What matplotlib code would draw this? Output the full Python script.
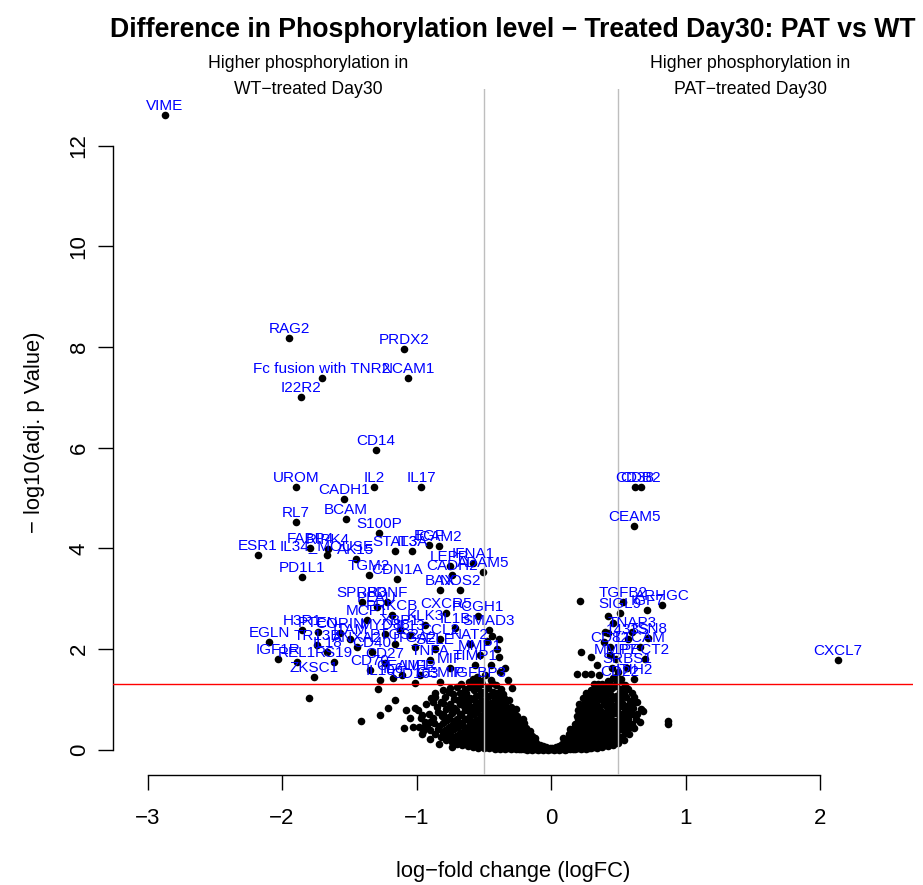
import numpy as np
import matplotlib
matplotlib.use("Agg")
import matplotlib.pyplot as plt

plt.rcParams['font.family'] = ['Liberation Sans', 'DejaVu Sans']

# ---------------- data ----------------
gene_names = [
    "VIME", "RAG2", "PRDX2", "Fc fusion with TNR2", "NCAM1", "I22R2", "CD14",
    "UROM", "IL2", "IL17", "CADH1", "BCAM", "RL7", "S100P", "ESR1", "FABP4",
    "RIPK4", "IL34_MOUSE", "AK15", "PD1L1", "TGM2", "CDN1A", "STAT3", "IL3A",
    "EGF", "ICAM2", "LEPR", "IFNA1", "CADH2", "ADAM5", "BAX", "NOS2",
    "SPRR3", "BDNF", "PLAU", "MCP1", "PRKCB", "CXCR5", "PCGH1", "SMAD3",
    "H3R1", "PTEN", "CORIN", "MYD88", "EGLN", "TR13B", "IL18", "IGF1R",
    "REL1", "RS19", "ZKSC1", "ITAM", "ANXA2", "CD40", "CD70", "IL6", "CEAM1",
    "MMP1", "TIMP1", "IGFBP3", "CEMIP", "CD163", "NAT2", "XBP1", "KLK3",
    "ITGA2", "CCL2", "IL1B", "TNFA", "MIF", "LIFR", "CD27", "PTGS2", "IL10",
    "IL13", "SELE",
    "CD38", "CDB2", "CEAM5", "TGFB2", "ARHGC", "IGF7", "SIGL9", "TNAP3",
    "1433S", "TSN8", "CD82", "L1CAM", "MMP7", "PECT2", "SRBS1", "ITIH2",
    "CD22", "CXCL7",
]
gene_logfc = [
    -2.870, -1.948, -1.093, -1.703, -1.063, -1.859, -1.301,
    -1.896, -1.316, -0.967, -1.539, -1.524, -1.896, -1.279, -2.178, -1.792,
    -1.658, -1.665, -1.450, -1.851, -1.353, -1.145, -1.160, -1.033,
    -0.907, -0.833, -0.751, -0.580, -0.736, -0.506, -0.825, -0.677,
    -1.405, -1.219, -1.294, -1.368, -1.182, -0.781, -0.543, -0.461,
    -1.851, -1.732, -1.569, -1.234, -2.097, -1.740, -1.665, -2.030,
    -1.888, -1.613, -1.762, -1.494, -1.442, -1.331, -1.346, -1.175, -1.108,
    -0.528, -0.565, -0.528, -0.825, -1.011, -0.602, -1.123, -0.937,
    -1.011, -0.825, -0.714, -0.900, -0.751, -0.974, -1.234, -1.160, -1.271,
    -1.048, -0.862,
    0.625, 0.665, 0.617, 0.535, 0.825, 0.714, 0.513, 0.602,
    0.572, 0.721, 0.439, 0.662, 0.483, 0.699, 0.565, 0.617,
    0.513, 2.134,
]
gene_neglogp = [
    12.62, 8.19, 7.97, 7.39, 7.39, 7.01, 5.96,
    5.21, 5.21, 5.21, 4.99, 4.59, 4.53, 4.31, 3.87, 4.01,
    3.99, 3.87, 3.78, 3.44, 3.48, 3.40, 3.95, 3.95,
    4.07, 4.05, 3.64, 3.70, 3.48, 3.52, 3.18, 3.18,
    2.94, 2.94, 2.84, 2.58, 2.68, 2.72, 2.66, 2.38,
    2.38, 2.34, 2.32, 2.29, 2.13, 2.07, 1.93, 1.81,
    1.75, 1.75, 1.45, 2.19, 2.03, 1.93, 1.59, 1.43, 1.49,
    1.89, 1.69, 1.35, 1.35, 1.33, 2.09, 2.38, 2.48,
    2.03, 2.19, 2.42, 1.79, 1.63, 1.49, 1.73, 2.09, 1.39,
    2.28, 1.99,
    5.21, 5.21, 4.45, 2.94, 2.88, 2.78, 2.72, 2.34,
    2.19, 2.21, 2.03, 2.03, 1.81, 1.81, 1.63, 1.41,
    1.37, 1.79,
]

# unlabeled proteins (logFC, -log10 adj. p)
other_points = [
    (-1.80, 1.03), (-1.41, 0.56), (-1.29, 1.21), (-1.16, 0.99), (-1.21, 0.83),
    (-1.27, 0.68), (-1.08, 0.79), (-1.01, 0.83), (-0.96, 0.68), (-1.05, 0.62),
    (-1.09, 0.42), (-1.03, 0.44), (-0.94, 0.46), (-0.90, 0.54), (-0.86, 1.05),
    (-0.80, 1.19), (-0.75, 1.23), (-0.77, 0.24),
    (-0.98, 0.45), (-0.97, 0.62), (-0.99, 0.78),
    (-0.94, 0.55), (-0.93, 0.90), (-0.95, 0.36),
    (-0.90, 0.38), (-0.91, 0.70), (-0.89, 1.02), (-0.90, 0.22),
    (-0.86, 0.30), (-0.87, 0.52), (-0.85, 0.85), (-0.86, 1.12),
    (-0.82, 0.25), (-0.83, 0.47), (-0.81, 0.66), (-0.82, 0.95), (-0.83, 0.12),
    (-0.78, 0.20), (-0.79, 0.38), (-0.77, 0.58), (-0.78, 0.80), (-0.79, 1.05),
    (-0.74, 0.16), (-0.75, 0.33), (-0.73, 0.50), (-0.74, 0.72), (-0.75, 0.90),
    (-0.73, 1.10), (-0.74, 0.06),
    (-0.70, 0.12), (-0.71, 0.27), (-0.69, 0.44), (-0.70, 0.60), (-0.71, 0.78),
    (-0.69, 0.98), (-0.70, 1.25),
    (-0.66, 0.10), (-0.67, 0.22), (-0.65, 0.36), (-0.66, 0.52), (-0.67, 0.68),
    (-0.65, 0.86), (-0.66, 1.05), (-0.67, 1.30),
    (-0.62, 0.08), (-0.63, 0.18), (-0.61, 0.30), (-0.62, 0.45), (-0.63, 0.60),
    (-0.61, 0.76), (-0.62, 0.92), (-0.63, 1.12), (-0.61, 1.35),
    (-0.58, 0.06), (-0.59, 0.15), (-0.57, 0.26), (-0.58, 0.40), (-0.59, 0.55),
    (-0.57, 0.70), (-0.58, 0.85), (-0.59, 1.00), (-0.57, 1.18), (-0.58, 1.40),
    (-0.54, 0.04), (-0.55, 0.13), (-0.53, 0.22), (-0.54, 0.35), (-0.55, 0.48),
    (-0.53, 0.62), (-0.54, 0.78), (-0.55, 0.92), (-0.53, 1.08), (-0.54, 1.25),
    (-0.55, 1.45),
    (-0.50, 0.03), (-0.51, 0.11), (-0.49, 0.20), (-0.50, 0.32), (-0.51, 0.44),
    (-0.49, 0.57), (-0.50, 0.70), (-0.51, 0.84), (-0.49, 0.98), (-0.50, 1.14),
    (-0.51, 1.30), (-0.49, 1.48),
    (-0.46, 0.03), (-0.47, 0.10), (-0.45, 0.18), (-0.46, 0.28), (-0.47, 0.40),
    (-0.45, 0.52), (-0.46, 0.64), (-0.47, 0.78), (-0.45, 0.92), (-0.46, 1.06),
    (-0.47, 1.22), (-0.45, 1.38),
    (-0.42, 0.02), (-0.43, 0.08), (-0.41, 0.16), (-0.42, 0.25), (-0.43, 0.36),
    (-0.41, 0.48), (-0.42, 0.60), (-0.43, 0.72), (-0.41, 0.86), (-0.42, 1.00),
    (-0.43, 1.15), (-0.41, 1.28),
    (-0.38, 0.02), (-0.39, 0.07), (-0.37, 0.14), (-0.38, 0.22), (-0.39, 0.32),
    (-0.37, 0.43), (-0.38, 0.55), (-0.39, 0.67), (-0.37, 0.80), (-0.38, 0.95),
    (-0.39, 1.08), (-0.37, 1.20),
    (-0.34, 0.01), (-0.35, 0.06), (-0.33, 0.12), (-0.34, 0.20), (-0.35, 0.30),
    (-0.33, 0.40), (-0.34, 0.50), (-0.35, 0.62), (-0.33, 0.75), (-0.34, 0.90),
    (-0.35, 1.02),
    (-0.30, 0.01), (-0.31, 0.05), (-0.29, 0.10), (-0.30, 0.17), (-0.31, 0.26),
    (-0.29, 0.36), (-0.30, 0.46), (-0.31, 0.57), (-0.29, 0.70), (-0.30, 0.85),
    (-0.31, 0.98),
    (-0.26, 0.01), (-0.27, 0.04), (-0.25, 0.09), (-0.26, 0.15), (-0.27, 0.23),
    (-0.25, 0.32), (-0.26, 0.42), (-0.27, 0.53), (-0.25, 0.66), (-0.26, 0.80),
    (-0.22, 0.01), (-0.23, 0.04), (-0.21, 0.08), (-0.22, 0.13), (-0.23, 0.20),
    (-0.21, 0.28), (-0.22, 0.37), (-0.23, 0.48), (-0.21, 0.60),
    (-0.18, 0.00), (-0.19, 0.03), (-0.17, 0.07), (-0.18, 0.12), (-0.19, 0.18),
    (-0.17, 0.25), (-0.18, 0.33), (-0.19, 0.43),
    (-0.14, 0.00), (-0.15, 0.03), (-0.13, 0.06), (-0.14, 0.10), (-0.15, 0.15),
    (-0.13, 0.21), (-0.14, 0.28),
    (-0.10, 0.00), (-0.11, 0.02), (-0.09, 0.05), (-0.10, 0.09), (-0.11, 0.14),
    (-0.06, 0.00), (-0.07, 0.02), (-0.05, 0.04), (-0.06, 0.07),
    (-0.02, 0.00), (-0.03, 0.01), (-0.01, 0.03),
    (0.02, 0.00), (0.03, 0.01), (0.01, 0.03),
    (0.06, 0.00), (0.07, 0.02), (0.05, 0.05), (0.06, 0.08),
    (0.10, 0.00), (0.11, 0.02), (0.09, 0.05), (0.10, 0.10), (0.11, 0.16),
    (0.09, 0.24),
    (0.14, 0.01), (0.15, 0.03), (0.13, 0.07), (0.14, 0.13), (0.15, 0.20),
    (0.13, 0.30), (0.14, 0.40),
    (0.18, 0.01), (0.19, 0.04), (0.17, 0.09), (0.18, 0.16), (0.19, 0.25),
    (0.17, 0.36), (0.18, 0.50), (0.19, 0.66),
    (0.22, 0.02), (0.23, 0.05), (0.21, 0.11), (0.22, 0.19), (0.23, 0.29),
    (0.21, 0.42), (0.22, 0.56), (0.23, 0.72), (0.21, 0.90),
    (0.26, 0.02), (0.27, 0.06), (0.25, 0.13), (0.26, 0.22), (0.27, 0.33),
    (0.25, 0.46), (0.26, 0.60), (0.27, 0.76), (0.25, 0.95), (0.26, 1.12),
    (0.30, 0.03), (0.31, 0.08), (0.29, 0.15), (0.30, 0.25), (0.31, 0.37),
    (0.29, 0.50), (0.30, 0.65), (0.31, 0.80), (0.29, 0.98), (0.30, 1.18),
    (0.34, 0.04), (0.35, 0.10), (0.33, 0.18), (0.34, 0.28), (0.35, 0.40),
    (0.33, 0.54), (0.34, 0.70), (0.35, 0.86), (0.33, 1.04), (0.34, 1.24),
    (0.38, 0.06), (0.39, 0.12), (0.37, 0.21), (0.38, 0.32), (0.39, 0.45),
    (0.37, 0.60), (0.38, 0.75), (0.39, 0.92), (0.37, 1.10), (0.38, 1.30),
    (0.42, 0.08), (0.43, 0.15), (0.41, 0.25), (0.42, 0.37), (0.43, 0.50),
    (0.41, 0.65), (0.42, 0.80), (0.43, 0.97), (0.41, 1.16), (0.42, 1.36),
    (0.46, 0.10), (0.47, 0.18), (0.45, 0.30), (0.46, 0.42), (0.47, 0.56),
    (0.45, 0.70), (0.46, 0.86), (0.47, 1.03), (0.45, 1.22), (0.46, 1.42),
    (0.50, 0.14), (0.51, 0.24), (0.49, 0.36), (0.50, 0.50), (0.51, 0.64),
    (0.49, 0.80), (0.50, 0.96), (0.51, 1.14), (0.49, 1.35), (0.50, 1.55),
    (0.54, 0.20), (0.55, 0.32), (0.53, 0.46), (0.54, 0.60), (0.55, 0.76),
    (0.53, 0.92), (0.54, 1.10), (0.55, 1.28),
    (0.58, 0.30), (0.59, 0.44), (0.57, 0.60), (0.58, 0.78), (0.59, 0.96),
    (0.57, 1.20),
    (0.62, 0.42), (0.63, 0.60), (0.61, 0.82), (0.62, 1.05),
    (0.66, 0.55), (0.67, 0.80), (0.68, 0.76),
    (0.87, 0.50), (0.87, 0.56),
    (-0.44, 2.25), (-0.39, 2.19), (-0.40, 1.99), (-0.48, 2.15), (-0.39, 1.85),
    (-0.45, 1.69), (-0.38, 1.55), (-0.32, 1.39), (-0.34, 1.63), (-0.29, 1.23),
    (0.216, 2.96), (0.42, 2.66), (0.46, 2.52), (0.40, 2.34), (0.19, 1.51),
    (0.22, 1.93), (0.30, 1.85), (0.25, 1.51), (0.30, 1.51), (0.34, 1.69),
    (0.36, 1.49), (0.42, 2.32), (0.44, 1.89), (0.39, 2.13), (0.45, 1.63),
    (0.35, 1.31),
    # second pass over the dense cloud
    (-0.96, 0.30), (-0.92, 0.48), (-0.88, 0.62), (-0.88, 0.95), (-0.84, 0.40),
    (-0.84, 0.74), (-0.80, 0.32), (-0.80, 0.52), (-0.80, 0.70), (-0.80, 0.92),
    (-0.76, 0.28), (-0.76, 0.45), (-0.76, 0.65), (-0.76, 0.85), (-0.76, 1.15),
    (-0.72, 0.22), (-0.72, 0.40), (-0.72, 0.56), (-0.72, 0.82), (-0.72, 1.00),
    (-0.68, 0.17), (-0.68, 0.33), (-0.68, 0.50), (-0.68, 0.70), (-0.68, 0.90),
    (-0.68, 1.12), (-0.64, 0.14), (-0.64, 0.27), (-0.64, 0.42), (-0.64, 0.60),
    (-0.64, 0.78), (-0.64, 0.98), (-0.64, 1.20), (-0.60, 0.12), (-0.60, 0.23),
    (-0.60, 0.36), (-0.60, 0.50), (-0.60, 0.66), (-0.60, 0.82), (-0.60, 1.02),
    (-0.60, 1.25), (-0.56, 0.09), (-0.56, 0.19), (-0.56, 0.31), (-0.56, 0.44),
    (-0.56, 0.58), (-0.56, 0.74), (-0.56, 0.90), (-0.56, 1.06), (-0.56, 1.30),
    (-0.52, 0.07), (-0.52, 0.16), (-0.52, 0.27), (-0.52, 0.40), (-0.52, 0.53),
    (-0.52, 0.67), (-0.52, 0.82), (-0.52, 0.97), (-0.52, 1.15), (-0.52, 1.36),
    (-0.48, 0.06), (-0.48, 0.14), (-0.48, 0.24), (-0.48, 0.36), (-0.48, 0.48),
    (-0.48, 0.62), (-0.48, 0.76), (-0.48, 0.90), (-0.48, 1.05), (-0.48, 1.25),
    (-0.44, 0.05), (-0.44, 0.13), (-0.44, 0.22), (-0.44, 0.33), (-0.44, 0.45),
    (-0.44, 0.57), (-0.44, 0.70), (-0.44, 0.84), (-0.44, 1.10), (-0.44, 1.32),
    (-0.40, 0.04), (-0.40, 0.11), (-0.40, 0.19), (-0.40, 0.29), (-0.40, 0.40),
    (-0.40, 0.52), (-0.40, 0.63), (-0.40, 0.76), (-0.40, 0.90), (-0.40, 1.12),
    (-0.36, 0.04), (-0.36, 0.10), (-0.36, 0.17), (-0.36, 0.26), (-0.36, 0.37),
    (-0.36, 0.48), (-0.36, 0.60), (-0.36, 0.72), (-0.36, 0.86), (-0.36, 1.10),
    (-0.32, 0.03), (-0.32, 0.08), (-0.32, 0.15), (-0.32, 0.23), (-0.32, 0.33),
    (-0.32, 0.44), (-0.32, 0.55), (-0.32, 0.67), (-0.32, 0.80),
    (-0.28, 0.03), (-0.28, 0.07), (-0.28, 0.13), (-0.28, 0.20), (-0.28, 0.29),
    (-0.28, 0.39), (-0.28, 0.50), (-0.28, 0.62), (-0.28, 0.75),
    (-0.24, 0.02), (-0.24, 0.06), (-0.24, 0.11), (-0.24, 0.18), (-0.24, 0.26),
    (-0.24, 0.35), (-0.24, 0.45), (-0.24, 0.56),
    (-0.20, 0.02), (-0.20, 0.05), (-0.20, 0.10), (-0.20, 0.16), (-0.20, 0.23),
    (-0.20, 0.31), (-0.20, 0.40), (-0.20, 0.52),
    (-0.16, 0.02), (-0.16, 0.05), (-0.16, 0.09), (-0.16, 0.14), (-0.16, 0.20),
    (-0.16, 0.28), (-0.16, 0.37),
    (-0.12, 0.01), (-0.12, 0.04), (-0.12, 0.08), (-0.12, 0.12), (-0.12, 0.18),
    (-0.12, 0.24),
    (-0.08, 0.01), (-0.08, 0.03), (-0.08, 0.06), (-0.08, 0.10),
    (-0.04, 0.01), (-0.04, 0.03), (-0.04, 0.05), (0.00, 0.01), (0.00, 0.02),
    (0.04, 0.01), (0.04, 0.03), (0.04, 0.05),
    (0.08, 0.01), (0.08, 0.04), (0.08, 0.07), (0.08, 0.12),
    (0.12, 0.01), (0.12, 0.04), (0.12, 0.09), (0.12, 0.15), (0.12, 0.22),
    (0.16, 0.02), (0.16, 0.06), (0.16, 0.11), (0.16, 0.19), (0.16, 0.28),
    (0.16, 0.40),
    (0.20, 0.03), (0.20, 0.07), (0.20, 0.14), (0.20, 0.22), (0.20, 0.33),
    (0.20, 0.46), (0.20, 0.60), (0.20, 0.78),
    (0.24, 0.03), (0.24, 0.09), (0.24, 0.16), (0.24, 0.26), (0.24, 0.38),
    (0.24, 0.51), (0.24, 0.66), (0.24, 0.82), (0.24, 1.02),
    (0.28, 0.04), (0.28, 0.11), (0.28, 0.19), (0.28, 0.30), (0.28, 0.42),
    (0.28, 0.56), (0.28, 0.72), (0.28, 0.88), (0.28, 1.06),
    (0.32, 0.06), (0.32, 0.13), (0.32, 0.22), (0.32, 0.33), (0.32, 0.46),
    (0.32, 0.60), (0.32, 0.76), (0.32, 0.93), (0.32, 1.12), (0.32, 1.30),
    (0.36, 0.08), (0.36, 0.16), (0.36, 0.26), (0.36, 0.37), (0.36, 0.50),
    (0.36, 0.66), (0.36, 0.82), (0.36, 1.00), (0.36, 1.18),
    (0.40, 0.10), (0.40, 0.19), (0.40, 0.30), (0.40, 0.42), (0.40, 0.56),
    (0.40, 0.72), (0.40, 0.88), (0.40, 1.05), (0.40, 1.24),
    (0.44, 0.13), (0.44, 0.22), (0.44, 0.34), (0.44, 0.46), (0.44, 0.60),
    (0.44, 0.76), (0.44, 0.92), (0.44, 1.10), (0.44, 1.30),
    (0.48, 0.17), (0.48, 0.28), (0.48, 0.42), (0.48, 0.56), (0.48, 0.72),
    (0.48, 0.88), (0.48, 1.06), (0.48, 1.26), (0.48, 1.45),
    (0.52, 0.26), (0.52, 0.40), (0.52, 0.54), (0.52, 0.70), (0.52, 0.86),
    (0.52, 1.02), (0.52, 1.20), (0.52, 1.40),
    (0.56, 0.38), (0.56, 0.52), (0.56, 0.68), (0.56, 0.86), (0.56, 1.04),
    (0.60, 0.50), (0.60, 0.70), (0.60, 0.90), (0.60, 1.12),
    (0.64, 0.70), (0.64, 0.94),
]
other_logfc = [p[0] for p in other_points]
other_neglogp = [p[1] for p in other_points]

x_ticks = [-3, -2, -1, 0, 1, 2]
y_ticks = [0, 2, 4, 6, 8, 10, 12]
fc_cut = 0.5
p_cut = 0.05

title = "Difference in Phosphorylation level \u2212 Treated Day30: PAT vs WT"
x_label = "log\u2212fold change (logFC)"
y_label = "\u2212 log10(adj. p Value)"
left_note = ["Higher phosphorylation in", "WT\u2212treated Day30"]
right_note = ["Higher phosphorylation in", "PAT\u2212treated Day30"]

# ---------------- figure ----------------
W, H = 923, 885
fig = plt.figure(figsize=(W / 100, H / 100), dpi=100)
ax = fig.add_axes([113 / W, 1 - 775 / H, 800 / W, 686 / H])
ax.set_xlim(-3.257, 2.691)
ax.set_ylim(-0.505, 13.13)

ax.scatter(other_logfc, other_neglogp, s=30, c='black', linewidths=0, zorder=3)
ax.scatter(gene_logfc, gene_neglogp, s=30, c='black', linewidths=0, zorder=3)

ax.axvline(-fc_cut, color='#BEBEBE', lw=1.0, zorder=4)
ax.axvline(fc_cut, color='#BEBEBE', lw=1.0, zorder=4)
ax.axhline(-np.log10(p_cut), color='red', lw=1.0, zorder=4)

for name, xv, yv in zip(gene_names, gene_logfc, gene_neglogp):
    ax.annotate(name, (xv, yv), xytext=(0, 3.6), textcoords='offset points',
                ha='center', va='baseline', color='blue', fontsize=11,
                zorder=5, annotation_clip=False)

for side in ['top', 'right']:
    ax.spines[side].set_visible(False)
ax.spines['bottom'].set_bounds(x_ticks[0], x_ticks[-1])
ax.spines['left'].set_bounds(y_ticks[0], y_ticks[-1])
ax.spines['bottom'].set_linewidth(1.0)
ax.spines['left'].set_linewidth(1.0)

ax.set_xticks(x_ticks)
ax.set_xticklabels([str(v).replace('-', '\u2212') for v in x_ticks])
ax.set_yticks(y_ticks)
ax.set_yticklabels([str(v) for v in y_ticks], rotation=90, va='center')
ax.tick_params(axis='x', length=10.8, width=1.0, labelsize=16, pad=13)
ax.tick_params(axis='y', length=10.8, width=1.0, labelsize=16, pad=6)

fig.text(513 / W, 1 - 30 / H, title, ha='center', va='center',
         fontsize=19.2, fontweight='bold')
fig.text(513 / W, 1 - 872 / H, x_label, ha='center', va='center', fontsize=15.8)
fig.text(35 / W, 1 - 432 / H, y_label, ha='center', va='center',
         rotation=90, fontsize=15.8)
for i, (l, r) in enumerate(zip(left_note, right_note)):
    yy = 1 - (63 + 26 * i) / H
    fig.text(308 / W, yy, l, ha='center', va='center', fontsize=12.7)
    fig.text(750 / W, yy, r, ha='center', va='center', fontsize=12.7)

fig.savefig("out.png", dpi=100)
